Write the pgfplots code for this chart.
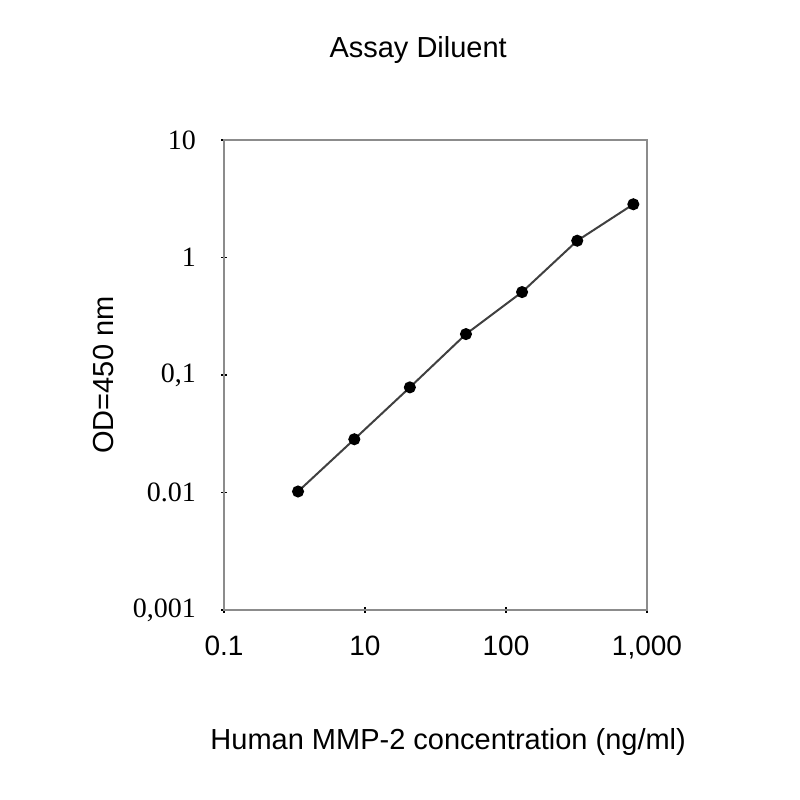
\documentclass[border=0pt]{standalone}
\usepackage{fontspec}
\setmainfont{Liberation Sans}
\newfontfamily\timesfont{Liberation Serif}
\usepackage{pgfplots}
\pgfplotsset{compat=1.18}

\definecolor{framegray}{HTML}{8C8C8C}
\definecolor{linegray}{HTML}{404040}

\begin{document}
\begin{tikzpicture}
  \useasboundingbox (0,0) rectangle (400pt,400pt);
  \begin{axis}[
      at={(112pt,95pt)}, anchor=south west,
      scale only axis,
      width=211.5pt, height=235pt,
      xmode=log, ymode=log,
      xmin=1, xmax=1000,
      ymin=0.001, ymax=10,
      xtick={1,10,100,1000},
      xticklabels={0.1,10,100,{1,000}},
      ytick={0.001,0.01,0.1,1,10},
      yticklabels={0,001,0.01,0,1,1,10},
      yticklabels={{0,001},{0.01},{0,1},{1},{10}},
      minor tick num=0,
      xminorticks=false, yminorticks=false,
      xtick pos=left, ytick pos=left,
      tick align=center,
      major tick length=3pt,
      tick style={black, line width=0.8pt},
      axis line style={framegray, line width=1.3pt},
      xticklabel style={font=\fontsize{14}{16}\selectfont, yshift=-8pt},
      yticklabel style={font=\timesfont\fontsize{14}{16}\selectfont, xshift=-9pt},
      title={Assay Diluent},
      title style={font=\fontsize{14.5}{17}\selectfont, at={(axis description cs:0.459,1.166)}, anchor=center},
      xlabel={Human MMP-2 concentration (ng/ml)},
      xlabel style={font=\fontsize{14.5}{17}\selectfont, at={(axis description cs:0.53,-0.281)}, anchor=center},
      ylabel={OD=450 nm},
      ylabel style={font=\fontsize{14.5}{17}\selectfont, at={(axis description cs:-0.286,0.5)}, anchor=center},
    ]
    \addplot[color=linegray, line width=1pt, mark=*, mark size=2.5pt,
             mark options={solid, fill=black, draw=black}] coordinates {
      (3.35,0.0102) (8.4,0.0284) (20.8,0.0785) (52,0.223)
      (130,0.508) (320,1.39) (800,2.84)
    };
  \end{axis}
\end{tikzpicture}
\end{document}
